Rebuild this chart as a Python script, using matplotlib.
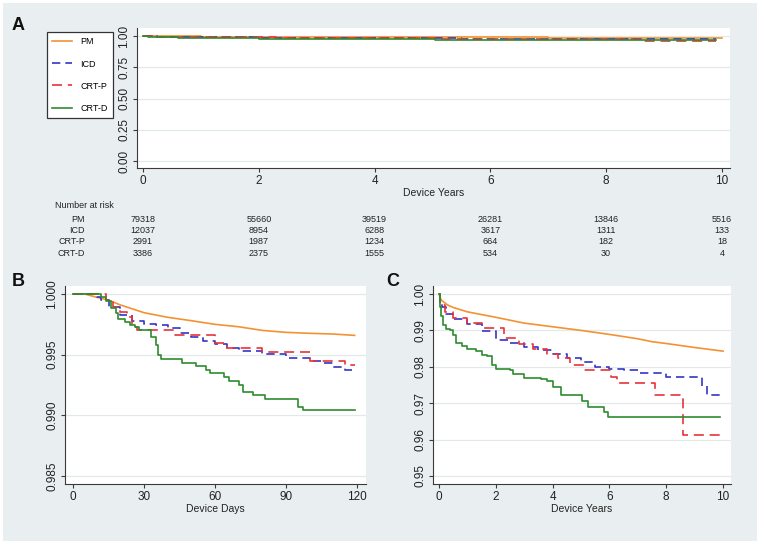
import numpy as np
import matplotlib.pyplot as plt
from matplotlib import transforms
from matplotlib.patches import Rectangle

plt.rcParams['font.family'] = ['Liberation Sans', 'DejaVu Sans']

groups = ['PM', 'ICD', 'CRT-P', 'CRT-D']
colors = ['#f39233', '#3535c8', '#e8333a', '#2d8c2d']
styles = ['-', (0, (5, 3)), (0, (6, 3.5)), '-']

# panel C / A : survival vs device years
pm_yr = [0, 0.05, 0.1, 0.3, 0.5, 1, 2, 3, 4, 5, 6, 7, 7.5, 8, 9, 10]
pm_yr_s = [1.0, 0.9988, 0.9982, 0.997, 0.9963, 0.9951, 0.9936, 0.992, 0.991,
           0.990, 0.9889, 0.9877, 0.9869, 0.9864, 0.9853, 0.9843]
icd_yr = [0, 0.03, 0.1, 0.25, 0.5, 1, 1.5, 2, 2.5, 3, 3.5, 4, 4.5, 5, 5.5, 6,
          6.5, 7, 8, 9.25, 9.45, 9.9]
icd_yr_s = [1.0, 0.998, 0.9965, 0.9945, 0.9932, 0.9918, 0.9898, 0.9875, 0.9865,
            0.9855, 0.9845, 0.9835, 0.9825, 0.9812, 0.980, 0.9793, 0.979, 0.9782,
            0.9773, 0.9747, 0.9722, 0.9722]
crtp_yr = [0, 0.05, 0.2, 0.5, 1.0, 1.5, 2.3, 2.8, 3.3, 3.8, 4.2, 4.6, 5.1, 6.05,
           6.25, 7.6, 8.6, 9.9]
crtp_yr_s = [1.0, 0.997, 0.995, 0.9935, 0.992, 0.9907, 0.9878, 0.9864, 0.985,
             0.9835, 0.9823, 0.9805, 0.979, 0.9773, 0.9756, 0.9722, 0.9612, 0.9612]
crtd_yr = [0, 0.03, 0.08, 0.15, 0.25, 0.4, 0.5, 0.6, 0.8, 1.0, 1.3, 1.5, 1.7,
           1.85, 2.0, 2.5, 2.6, 3.0, 3.6, 3.8, 4.0, 4.3, 5.05, 5.25, 5.8, 5.95, 9.9]
crtd_yr_s = [1.0, 0.9965, 0.994, 0.9915, 0.9905, 0.990, 0.9887, 0.9865, 0.9858,
             0.985, 0.9844, 0.9832, 0.983, 0.9805, 0.9793, 0.979, 0.978, 0.977,
             0.9767, 0.976, 0.9744, 0.9722, 0.9707, 0.969, 0.9677, 0.9661, 0.9661]

# panel B : survival vs device days
pm_d = [0, 5, 10, 15, 20, 30, 40, 50, 60, 70, 80, 90, 100, 110, 119]
pm_d_s = [1.0, 1.0, 0.99973, 0.9995, 0.9991, 0.99846, 0.99808, 0.9978, 0.9975,
          0.9973, 0.9970, 0.99684, 0.99676, 0.9967, 0.99659]
icd_d = [0, 8, 10, 12, 15, 20, 25, 30, 35, 40, 45, 50, 55, 60, 65, 70, 80, 90,
         100, 105, 110, 115, 119]
icd_d_s = [1.0, 1.0, 0.99978, 0.9995, 0.99896, 0.99827, 0.9978, 0.9975, 0.99748,
           0.99717, 0.99676, 0.99643, 0.99615, 0.99585, 0.99555, 0.9953, 0.99505,
           0.9947, 0.99448, 0.9943, 0.9940, 0.99374, 0.99374]
crtp_d = [0, 14, 17, 20, 23, 25, 27, 43, 60, 65, 80, 100, 115, 119]
crtp_d_s = [1.0, 0.9995, 0.99896, 0.99854, 0.99808, 0.9973, 0.9970, 0.99662,
            0.99593, 0.99558, 0.99525, 0.99448, 0.99415, 0.99415]
crtd_d = [0, 10, 12, 14, 16, 18, 19, 22, 24, 26, 28, 33, 35, 36, 37, 46, 52, 56,
          58, 64, 66, 70, 72, 76, 81, 95, 97, 119]
crtd_d_s = [1.0, 1.0, 0.99973, 0.99945, 0.99885, 0.9984, 0.9979, 0.99772,
            0.99745, 0.9973, 0.9970, 0.99648, 0.9958, 0.99497, 0.99464, 0.99434,
            0.99407, 0.99374, 0.99346, 0.99319, 0.99286, 0.9925, 0.99195, 0.99168,
            0.99135, 0.99071, 0.99041, 0.99041]

# number at risk table
risk_times = [0, 2, 4, 6, 8, 10]
risk_pm = [79318, 55660, 39519, 26281, 13846, 5516]
risk_icd = [12037, 8954, 6288, 3617, 1311, 133]
risk_crtp = [2991, 1987, 1234, 664, 182, 18]
risk_crtd = [3386, 2375, 1555, 534, 30, 4]

W, H = 760, 544
fig = plt.figure(figsize=(7.6, 5.44), dpi=100, facecolor='white')
fig.patches.append(Rectangle((3 / W, 3 / H), 1 - 6 / W, 1 - 6 / H,
                             transform=fig.transFigure, facecolor='#e9eff1',
                             edgecolor='none', zorder=-10))


def box(l, t, r, b):
    return [l / W, 1 - b / H, (r - l) / W, (b - t) / H]


def style(ax, xticks, yticks, yfmt, xlim, ylim, xlabel):
    ax.set_facecolor('white')
    for s in ['top', 'right']:
        ax.spines[s].set_visible(False)
    for s in ['left', 'bottom']:
        ax.spines[s].set_color('#3a3a3a')
        ax.spines[s].set_linewidth(0.8)
    ax.set_xticks(xticks)
    ax.set_yticks(yticks)
    ax.set_yticklabels([yfmt.format(v) for v in yticks], rotation=90, va='center')
    ax.set_xlim(*xlim)
    ax.set_ylim(*ylim)
    ax.tick_params(length=3, width=0.8, color='#3a3a3a', labelsize=8.5,
                   labelcolor='#222222', pad=2)
    ax.grid(axis='y', color='#e3e9eb', linewidth=0.9)
    ax.set_axisbelow(True)
    ax.set_xlabel(xlabel, fontsize=7.5, color='#222222', labelpad=1)


year_data = [(pm_yr, pm_yr_s), (icd_yr, icd_yr_s), (crtp_yr, crtp_yr_s), (crtd_yr, crtd_yr_s)]
day_data = [(pm_d, pm_d_s), (icd_d, icd_d_s), (crtp_d, crtp_d_s), (crtd_d, crtd_d_s)]

# panel A
axA = fig.add_axes(box(137, 28, 730, 168))
handles = []
for (x, y), c, ls, g in zip(year_data, colors, styles, groups):
    h, = axA.plot(x, y, color=c, ls=ls, lw=1.2, drawstyle='steps-post', label=g)
    handles.append(h)
style(axA, [0, 2, 4, 6, 8, 10], [0, 0.25, 0.5, 0.75, 1.0], '{:.2f}',
      (-0.104, 10.14), (-0.056, 1.064), 'Device Years')

leg = fig.legend(handles, groups, loc='upper left', bbox_to_anchor=(47 / W, 1 - 32 / H),
                 fontsize=6.5, frameon=True, fancybox=False, framealpha=1,
                 handlelength=2.2, handletextpad=0.9, labelspacing=1.45,
                 borderpad=0.6, borderaxespad=0)
leg.get_frame().set_edgecolor('#333333')
leg.get_frame().set_linewidth(0.9)

# number at risk
tr = transforms.blended_transform_factory(axA.transData, fig.transFigure)
fig.text(55 / W, 1 - 206 / H, 'Number at risk', fontsize=6.5, va='center', color='#222222')
rows = [risk_pm, risk_icd, risk_crtp, risk_crtd]
row_y = [220, 231, 242, 253]
for g, vals, yy in zip(groups, rows, row_y):
    fig.text(85 / W, 1 - yy / H, g, fontsize=6.5, ha='right', va='center', color='#222222')
    for t, v in zip(risk_times, vals):
        axA.text(t, 1 - yy / H, str(v), transform=tr, fontsize=6.5, ha='center',
                 va='center', color='#222222', clip_on=False)

# panel B
axB = fig.add_axes(box(65, 286, 366, 484))
for (x, y), c, ls in zip(day_data, colors, styles):
    axB.plot(x, y, color=c, ls=ls, lw=1.2,
             drawstyle='default' if c == colors[0] else 'steps-post')
style(axB, [0, 30, 60, 90, 120], [0.985, 0.990, 0.995, 1.000], '{:.3f}',
      (-3.38, 123.8), (0.98434, 1.00066), 'Device Days')

# panel C
axC = fig.add_axes(box(433, 286, 731, 484))
for (x, y), c, ls in zip(year_data, colors, styles):
    axC.plot(x, y, color=c, ls=ls, lw=1.2,
             drawstyle='default' if c == colors[0] else 'steps-post')
style(axC, [0, 2, 4, 6, 8, 10], [0.95, 0.96, 0.97, 0.98, 0.99, 1.00], '{:.2f}',
      (-0.211, 10.28), (0.9478, 1.0022), 'Device Years')

for lab, x, y in [('A', 18, 25), ('B', 18, 282), ('C', 393, 282)]:
    fig.text(x / W, 1 - y / H, lab, fontsize=13, fontweight='bold', ha='center',
             va='center', color='#111111')

fig.savefig('out.png', dpi=100, facecolor=fig.get_facecolor())
